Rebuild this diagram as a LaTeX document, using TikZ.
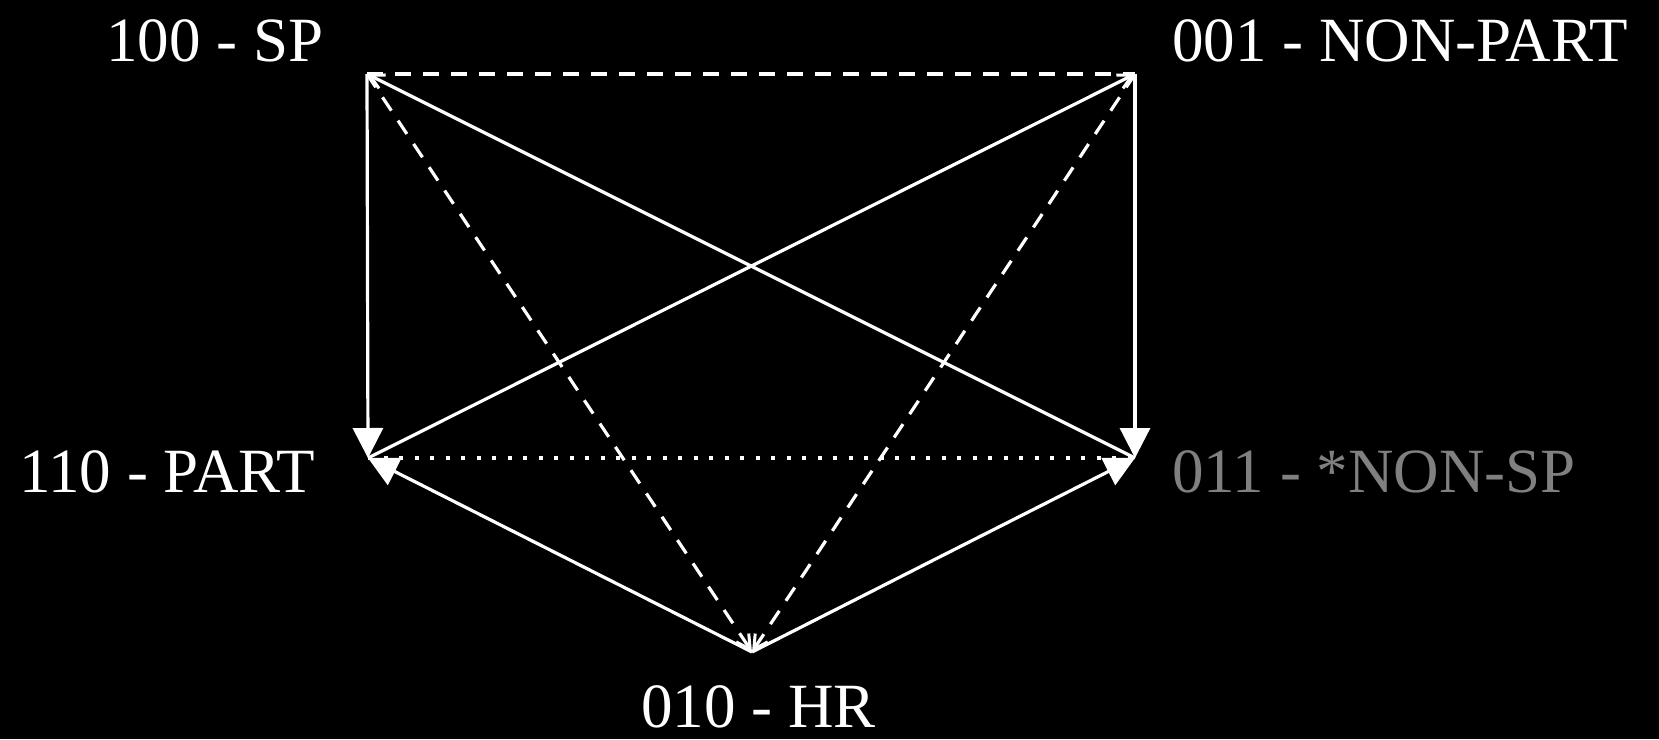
\documentclass[tikz,border=0pt]{standalone}
\usepackage{fontspec}
\setmainfont{Liberation Serif}
\usetikzlibrary{arrows.meta}
\definecolor{dimtext}{RGB}{128,128,128}
\tikzset{
  lbl/.style={text=white, inner sep=0pt, anchor=base west, font=\fontsize{63}{70}\selectfont},
  edge/.style={draw=white, line width=3.2pt},
  bighead/.style={-{Triangle[length=30pt,width=30pt]}},
  smallhead/.style={-{Straight Barb[length=14pt,width=15pt,line width=3pt]}},
  dashedline/.style={dash pattern=on 16pt off 12pt},
  dottedline/.style={dash pattern=on 4pt off 11.5pt}
}
\begin{document}
\begin{tikzpicture}[x=1pt,y=-1pt]
\fill[black] (0,0) rectangle (1659,739);
\useasboundingbox (0,0) rectangle (1659,739);
\coordinate (A) at (367,74);
\coordinate (B) at (1135,74);
\coordinate (C) at (368,458);
\coordinate (D) at (1135,458);
\coordinate (E) at (752,652);
\node[lbl] (sp) at (106,61) {100 - SP};
\node[lbl] (nonpart) at (1172,61) {001 - NON-PART};
\node[lbl] (part) at (19,492) {110 - PART};
\node[lbl, text=dimtext] (nonsp) at (1172,492) {011 - *NON-SP};
\node[lbl] (hr) at (641,727) {010 - HR};
% dashed and dotted lines
\draw[edge, dashedline] (A) -- (B);
\draw[edge, dashedline, smallhead] (A) -- (E);
\draw[edge, dashedline, smallhead] (B) -- (E);
\draw[edge, dottedline] (C) -- (D);
% diagonals
\draw[edge, smallhead] (D) -- (A);
\draw[edge, smallhead] (C) -- (B);
% big arrows
\draw[edge, bighead] (A) -- (C);
\draw[edge, bighead] (B) -- (D);
\draw[edge, bighead] (E) -- (C);
\draw[edge, bighead] (E) -- (D);
\end{tikzpicture}
\end{document}
